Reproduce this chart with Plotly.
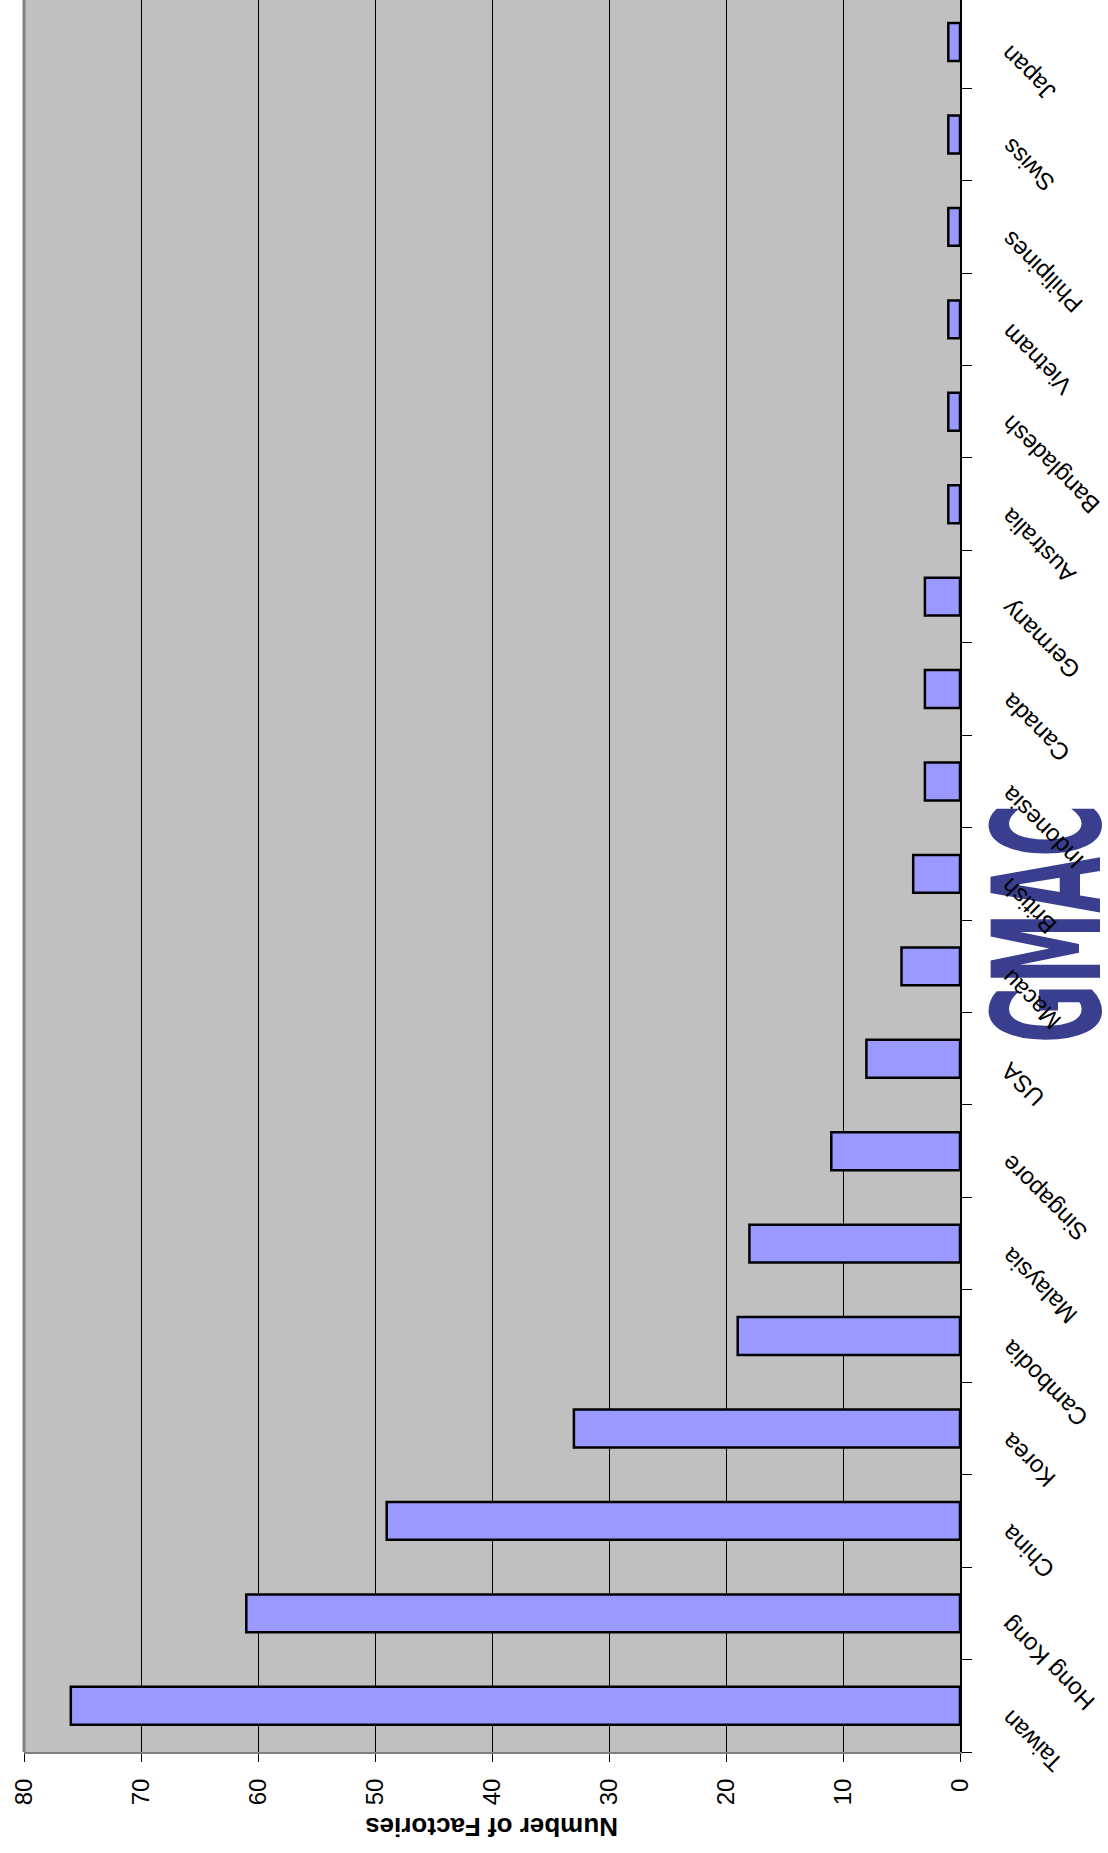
import plotly.graph_objects as go

# Factory counts by country of ownership (first category sits at the bottom)
countries = [
    "Taiwan", "Hong Kong", "China", "Korea", "Cambodia", "Malaysia",
    "Singapore", "USA", "Macau", "British", "Indonesia", "Canada",
    "Germany", "Australia", "Bangladesh", "Vietnam", "Philipines",
    "Swiss", "Japan",
]
factories = [76, 61, 49, 33, 19, 18, 11, 8, 5, 4, 3, 3, 3, 1, 1, 1, 1, 1, 1]
value_ticks = [0, 10, 20, 30, 40, 50, 60, 70, 80]

FONT = "Arial, Liberation Sans, sans-serif"

fig = go.Figure(
    go.Bar(
        x=factories,
        y=countries,
        orientation="h",
        width=0.41,
        marker=dict(color="#9999FF", line=dict(color="#000000", width=2.5)),
        hoverinfo="x+y",
    )
)

fig.update_layout(
    width=1108,
    height=1853,
    margin=dict(l=24, r=148, t=0, b=101),
    paper_bgcolor="#FFFFFF",
    plot_bgcolor="#C0C0C0",
    showlegend=False,
    font=dict(family=FONT, color="#000000"),
)

fig.update_xaxes(
    range=[80, 0],
    tickvals=value_ticks,
    ticktext=[str(v) for v in value_ticks],
    showgrid=True,
    gridcolor="#000000",
    gridwidth=1,
    zeroline=False,
    showline=True,
    linecolor="#808080",
    linewidth=2,
    ticks="outside",
    ticklen=8,
    tickcolor="#000000",
    tickwidth=1,
    tickangle=-90,
    tickfont=dict(size=24, family=FONT, color="#000000"),
    ticklabelstandoff=7,
)

fig.update_yaxes(
    type="category",
    categoryorder="array",
    categoryarray=countries,
    range=[-0.5, 18.455],
    side="right",
    showgrid=False,
    zeroline=False,
    showline=True,
    linecolor="#000000",
    linewidth=1.5,
    ticks="outside",
    tickson="boundaries",
    ticklen=10,
    tickcolor="#000000",
    tickwidth=1,
    showticklabels=False,
)

# gray frame edge on the far (80) side of the value axis
fig.add_shape(
    type="line", xref="paper", yref="paper",
    x0=0, x1=0, y0=0, y1=1,
    line=dict(color="#808080", width=3),
    layer="above",
)

annotations = []

# GMAC logo text (condensed afterwards in the page script)
annotations.append(dict(
    text="<b>GMAC</b>",
    xref="paper", yref="paper",
    x=1, xshift=88, y=0.4726,
    xanchor="center", yanchor="middle",
    textangle=-90,
    showarrow=False,
    font=dict(family="DejaVu Sans, sans-serif", size=150, color="#3A3E8F"),
))

# rotated category labels beside the category axis
for name in countries:
    annotations.append(dict(
        text=name,
        xref="paper", yref="y",
        x=1, y=name,
        xanchor="left", yanchor="top",
        xshift=33, yshift=4,
        textangle=-135,
        showarrow=False,
        font=dict(family=FONT, size=24, color="#000000"),
    ))

# value-axis title
annotations.append(dict(
    text="<b>Number of Factories</b>",
    xref="paper", yref="paper",
    x=0.5, y=0, yshift=-75,
    xanchor="center", yanchor="middle",
    textangle=180,
    showarrow=False,
    font=dict(family=FONT, size=26, color="#000000"),
))

fig.update_layout(annotations=annotations)

# squeeze the logo lettering along its reading direction
logo_script = """
var gd = document.getElementById('{plot_id}');
gd.querySelectorAll('text.annotation-text').forEach(function (t) {
  if (t.textContent === 'GMAC') {
    t.style.transformBox = 'fill-box';
    t.style.transformOrigin = 'center';
    t.style.transform = 'scaleX(0.48)';
  }
});
"""

fig.write_html("out.html", post_script=logo_script)
